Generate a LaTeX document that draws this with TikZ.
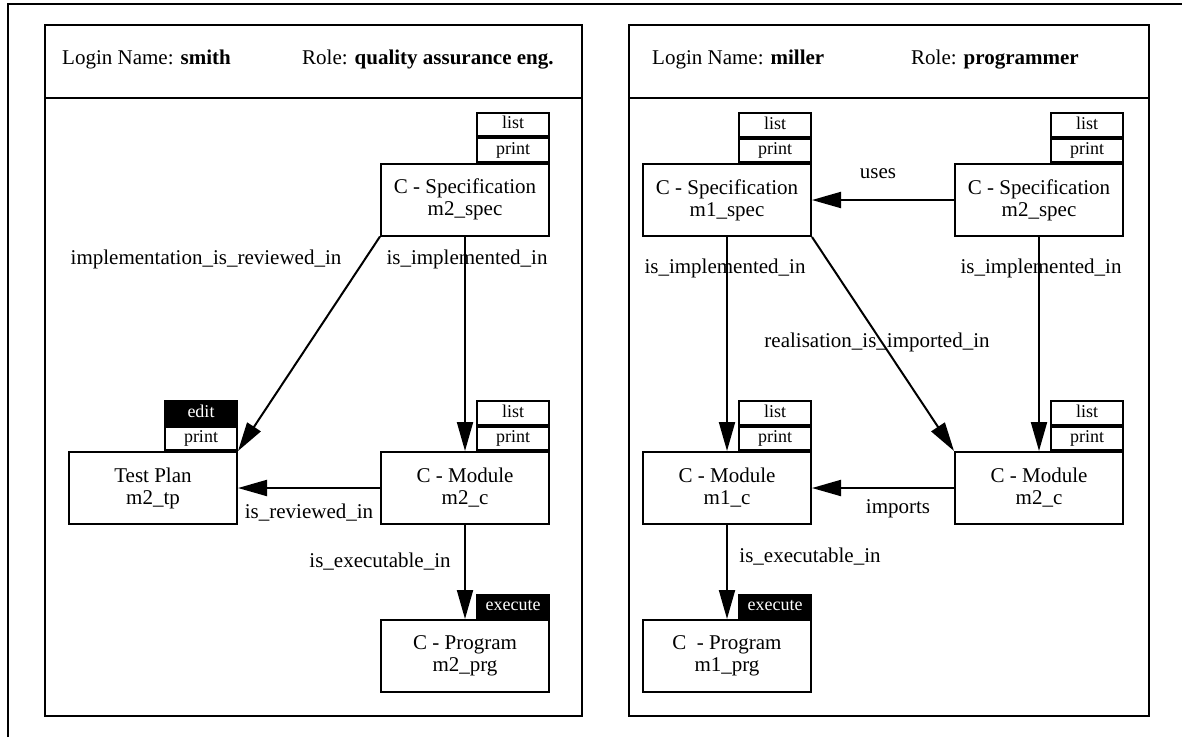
\documentclass[tikz,border=0pt]{standalone}
\usepackage{fontspec}
\setmainfont{Liberation Serif}
\usetikzlibrary{arrows.meta}
\begin{document}
\begin{tikzpicture}[x=1pt,y=-1pt,
  objbox/.style={draw, line width=2pt, minimum width=168pt, minimum height=72pt,
    inner sep=0pt, align=center, font=\fontsize{21}{22}\selectfont},
  tabrow/.style={draw, line width=2pt, minimum width=72pt, minimum height=23.5pt,
    inner sep=0pt, text height=12pt, text depth=3.5pt,
    font=\fontsize{18}{18}\selectfont, anchor=south east},
  tabdark/.style={tabrow, fill=black, text=white},
  arr/.style={line width=2pt, -{Triangle[length=29pt,width=16pt]}},
  lbl/.style={font=\fontsize{21}{22}\selectfont, inner sep=0pt, anchor=base},
  hdr/.style={font=\fontsize{21}{22}\selectfont, inner sep=0pt, anchor=base west},
  panel/.style={line width=2.3pt},
]
\useasboundingbox (0,0) rectangle (1182,737);

% outer frame (runs off the page on the right and at the bottom)
\draw[line width=2.7pt] (8,737) -- (8,4) -- (1182,4);

% ---------- left window: smith ----------
\draw[panel] (45,25) rectangle (582,716);
\draw[panel] (45,97.7) -- (582,97.7);
\node[hdr] (userL) at (62,64) {Login Name: \textbf{smith}};
\node[hdr] (roleL) at (302,64) {Role: \textbf{quality assurance eng.}};

\node[objbox] (specL) at (465,199.5) {C - Specification\\m2\_spec};
\node[tabrow] (specLp) at (specL.north east) {print};
\node[tabrow] (specLl) at (specLp.north east) {list};

\node[objbox] (tpL) at (153,488) {Test Plan\\m2\_tp};
\node[tabrow] (tpLp) at (tpL.north east) {print};
\node[tabdark] (tpLe) at (tpLp.north east) {edit};

\node[objbox] (modL) at (465,488) {C - Module\\m2\_c};
\node[tabrow] (modLp) at (modL.north east) {print};
\node[tabrow] (modLl) at (modLp.north east) {list};

\node[objbox] (prgL) at (465,656) {C - Program\\m2\_prg};
\node[tabdark] (prgLx) at (prgL.north east) {execute};

\draw[arr] (specL.south west) -- (tpL.north east);
\draw[arr] (specL) -- (modL);
\draw[arr] (modL) -- (tpL);
\draw[arr] (modL) -- (prgL);

\node[lbl] (l1) at (206,264) {implementation\_is\_reviewed\_in};
\node[lbl] (l2) at (467,264) {is\_implemented\_in};
\node[lbl] (l3) at (309,518) {is\_reviewed\_in};
\node[lbl] (l4) at (380,567) {is\_executable\_in};

% ---------- right window: miller ----------
\draw[panel] (629,25) rectangle (1149,716);
\draw[panel] (629,97.7) -- (1149,97.7);
\node[hdr] (userR) at (652,64) {Login Name: \textbf{miller}};
\node[hdr] (roleR) at (911,64) {Role: \textbf{programmer}};

\node[objbox] (spec1R) at (727,200) {C - Specification\\m1\_spec};
\node[tabrow] (spec1Rp) at (spec1R.north east) {print};
\node[tabrow] (spec1Rl) at (spec1Rp.north east) {list};

\node[objbox] (spec2R) at (1039,200) {C - Specification\\m2\_spec};
\node[tabrow] (spec2Rp) at (spec2R.north east) {print};
\node[tabrow] (spec2Rl) at (spec2Rp.north east) {list};

\node[objbox] (mod1R) at (727,488) {C - Module\\m1\_c};
\node[tabrow] (mod1Rp) at (mod1R.north east) {print};
\node[tabrow] (mod1Rl) at (mod1Rp.north east) {list};

\node[objbox] (mod2R) at (1039,488) {C - Module\\m2\_c};
\node[tabrow] (mod2Rp) at (mod2R.north east) {print};
\node[tabrow] (mod2Rl) at (mod2Rp.north east) {list};

\node[objbox] (prgR) at (727,656) {C~ - Program\\m1\_prg};
\node[tabdark] (prgRx) at (prgR.north east) {execute};

\draw[arr] (spec2R) -- (spec1R);
\draw[arr] (spec1R) -- (mod1R);
\draw[arr] (spec2R) -- (mod2R);
\draw[arr] (spec1R.south east) -- (mod2R.north west);
\draw[arr] (mod2R) -- (mod1R);
\draw[arr] (mod1R) -- (prgR);

\node[lbl] (r1) at (878,178) {uses};
\node[lbl] (r2) at (725,273) {is\_implemented\_in};
\node[lbl] (r3) at (1041,273) {is\_implemented\_in};
\node[lbl] (r4) at (877,347) {realisation\_is\_imported\_in};
\node[lbl] (r5) at (898,513) {imports};
\node[lbl] (r6) at (810,562) {is\_executable\_in};
\end{tikzpicture}
\end{document}
